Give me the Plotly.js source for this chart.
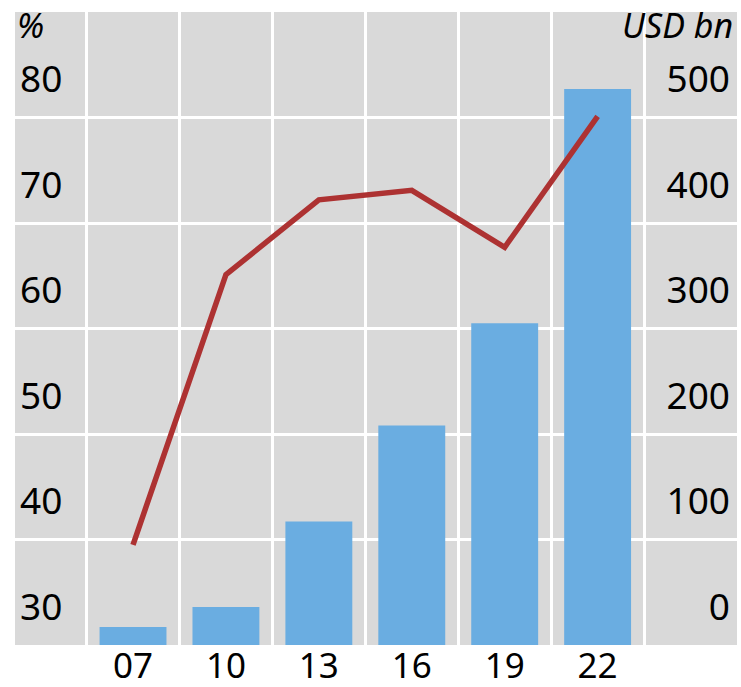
<!DOCTYPE html>
<html>
<head>
<meta charset="utf-8">
<script src="https://cdn.plot.ly/plotly-3.0.1.min.js"></script>
<style>html,body{margin:0;padding:0;background:#fff;}#chart{width:741px;height:687px;}</style>
</head>
<body>
<div id="chart"></div>
<script>
const years = ["07", "10", "13", "16", "19", "22"];
const amountUsdBn = [17, 36, 117, 208, 305, 527];
const sharePct = [39.5, 65.1, 72.2, 73.1, 67.7, 80.1];
const leftTicks = [30, 40, 50, 60, 70, 80];
const rightTicks = [0, 100, 200, 300, 400, 500];

const FONT = "Noto Sans, Open Sans, sans-serif";
const traces = [
  {
    type: "bar", x: years, y: amountUsdBn, yaxis: "y",
    marker: {color: "#6aade1"}, width: 0.72
  },
  {
    type: "scatter", mode: "lines", x: years, y: sharePct, yaxis: "y2",
    line: {color: "#ad3232", width: 5.5}
  }
];
const layout = {
  width: 741, height: 687,
  margin: {l: 15, r: 4, t: 12, b: 42},
  paper_bgcolor: "#ffffff", plot_bgcolor: "#d9d9d9",
  showlegend: false,
  font: {family: FONT, size: 36, color: "#000"},
  xaxis: {
    type: "category", range: [-1.27, 6.5], tickson: "boundaries",
    showgrid: true, gridcolor: "#ffffff", gridwidth: 3,
    ticks: "", zeroline: false, showline: false, ticklabelstandoff: -3,
    tickfont: {family: FONT, size: 35, color: "#000"}
  },
  yaxis: {
    range: [0, 600], tickvals: rightTicks, ticktext: rightTicks.map(String),
    side: "right", showgrid: true, gridcolor: "#ffffff", gridwidth: 3, zeroline: false,
    ticklabelposition: "inside", ticklabelshift: -38, ticklabelstandoff: 4,
    ticks: "", tickfont: {family: FONT, size: 37, color: "#000"}
  },
  yaxis2: {
    range: [30, 90], tickvals: leftTicks, ticktext: leftTicks.map(String),
    overlaying: "y", side: "left", showgrid: false, zeroline: false,
    ticklabelposition: "inside", ticklabelshift: -38, ticklabelstandoff: 2,
    ticks: "", tickfont: {family: FONT, size: 37, color: "#000"}
  },
  annotations: [
    {text: "%", xref: "paper", yref: "paper", x: 0, y: 1, xanchor: "left", yanchor: "top",
     showarrow: false, font: {family: FONT, size: 34, style: "italic", color: "#000"}, yshift: 12},
    {text: "USD bn", xref: "paper", yref: "paper", x: 1, y: 1, xanchor: "right", yanchor: "top",
     showarrow: false, font: {family: FONT, size: 34, style: "italic", color: "#000"}, yshift: 12, xshift: -2}
  ]
};
Plotly.newPlot("chart", traces, layout, {displayModeBar: false, staticPlot: true});
</script>
</body>
</html>
